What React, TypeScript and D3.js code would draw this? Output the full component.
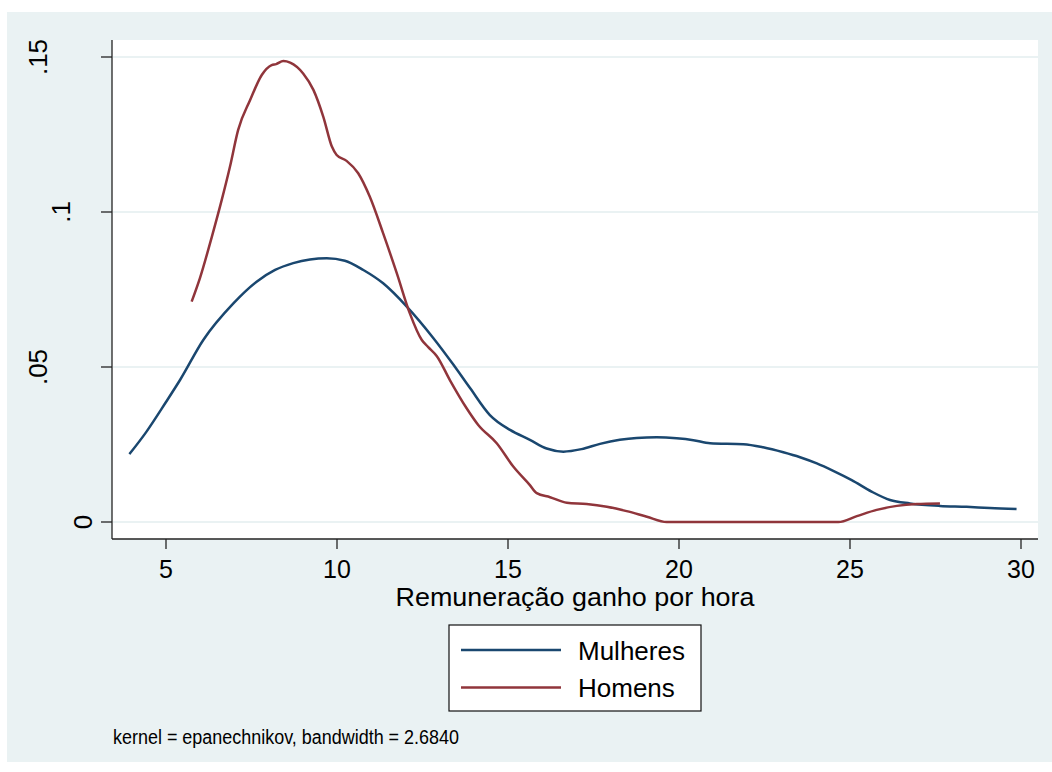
import React, { useRef, useEffect } from 'react';
import * as d3 from 'd3';

// kernel density estimates
const mulheresX = [3.93, 4.42, 5.0, 5.41, 6.09, 6.97, 7.65, 8.19, 8.72, 9.21, 9.70, 10.23, 10.77, 11.35, 12.04, 12.82, 13.40, 13.89, 14.47, 15.06, 15.64, 16.13, 16.62, 17.15, 17.69, 18.27, 18.76, 19.35, 19.93, 20.42, 20.91, 21.88, 22.46, 23.05, 23.54, 24.03, 24.51, 25.05, 25.63, 26.17, 26.75, 27.63, 28.41, 29.09, 29.87];
const mulheresY = [0.0219, 0.029, 0.0387, 0.0458, 0.0587, 0.0705, 0.0775, 0.0813, 0.0835, 0.0847, 0.0851, 0.0843, 0.0813, 0.077, 0.0695, 0.0593, 0.0508, 0.0432, 0.0345, 0.0297, 0.0265, 0.0237, 0.0227, 0.0235, 0.0252, 0.0265, 0.0271, 0.0273, 0.027, 0.0264, 0.0254, 0.0251, 0.0241, 0.0225, 0.0209, 0.0189, 0.0165, 0.0135, 0.0098, 0.0071, 0.006, 0.0052, 0.0049, 0.0045, 0.0042];

const homensX = [5.75, 5.99, 6.34, 6.63, 6.87, 7.11, 7.46, 7.80, 8.09, 8.22, 8.43, 8.63, 9.01, 9.31, 9.60, 9.85, 9.99, 10.28, 10.62, 10.96, 11.35, 11.75, 12.13, 12.48, 12.66, 12.92, 13.30, 13.79, 14.13, 14.67, 15.16, 15.64, 15.84, 16.23, 16.72, 17.30, 17.89, 18.47, 19.06, 19.64, 24.66, 25.20, 25.78, 26.37, 26.95, 27.63];
const homensY = [0.0711, 0.0786, 0.092, 0.1039, 0.1146, 0.1265, 0.1361, 0.1442, 0.1474, 0.1477, 0.1487, 0.1482, 0.1447, 0.1394, 0.1307, 0.1211, 0.1184, 0.1165, 0.1125, 0.1049, 0.0931, 0.0802, 0.0673, 0.0587, 0.0565, 0.0535, 0.0458, 0.0367, 0.0313, 0.0254, 0.0178, 0.0119, 0.0093, 0.008, 0.0062, 0.0058, 0.0049, 0.0035, 0.0017, 0, 0, 0.0019, 0.0039, 0.0052, 0.0058, 0.006];

const xTicks = [5, 10, 15, 20, 25, 30];
const yTicks = [0, 0.05, 0.1, 0.15];
const yTickLabels = ['0', '.05', '.1', '.15'];
const seriesNames = ['Mulheres', 'Homens'];
const seriesColors = ['#1a476f', '#90353b'];

const App = () => {
  const ref = useRef(null);

  useEffect(() => {
    if (!ref.current) return;
    const W = 1052, H = 772;
    const plot = { left: 112, right: 1038, top: 40, bottom: 539 };
    const font = "'Liberation Sans', Arial, sans-serif";

    d3.select(ref.current).select('svg').remove();
    const svg = d3.select(ref.current)
      .append('svg')
      .attr('width', W)
      .attr('height', H)
      .style('position', 'absolute')
      .style('left', 0)
      .style('top', 0);

    svg.append('rect').attr('width', W).attr('height', H).attr('fill', '#ffffff');
    svg.append('rect')
      .attr('x', 7).attr('y', 12)
      .attr('width', W - 7).attr('height', 750)
      .attr('fill', '#eaf2f3');
    svg.append('rect')
      .attr('x', plot.left).attr('y', plot.top)
      .attr('width', plot.right - plot.left).attr('height', plot.bottom - plot.top)
      .attr('fill', '#ffffff');

    const x = d3.scaleLinear().domain([5, 30]).range([166, 1021]);
    const y = d3.scaleLinear().domain([0, 0.15]).range([522, 57]);

    // gridlines
    svg.append('g')
      .selectAll('line')
      .data(yTicks)
      .join('line')
      .attr('x1', plot.left + 1).attr('x2', plot.right)
      .attr('y1', d => y(d)).attr('y2', d => y(d))
      .attr('stroke', '#eaf2f3')
      .attr('stroke-width', 2);

    // series
    const line = d3.line<[number, number]>()
      .x(d => x(d[0]))
      .y(d => y(d[1]))
      .curve(d3.curveMonotoneX);

    const series = [
      d3.zip(mulheresX, mulheresY),
      d3.zip(homensX, homensY),
    ];
    series.forEach((pts, i) => {
      svg.append('path')
        .attr('d', line(pts as [number, number][]))
        .attr('fill', 'none')
        .attr('stroke', seriesColors[i])
        .attr('stroke-width', 2.5)
        .attr('stroke-linejoin', 'round');
    });

    // axes
    const axisColor = '#222222';
    svg.append('line')
      .attr('x1', plot.left).attr('x2', plot.left)
      .attr('y1', plot.top).attr('y2', plot.bottom)
      .attr('stroke', axisColor).attr('stroke-width', 1.3);
    svg.append('line')
      .attr('x1', plot.left).attr('x2', plot.right)
      .attr('y1', plot.bottom).attr('y2', plot.bottom)
      .attr('stroke', axisColor).attr('stroke-width', 1.3);

    svg.append('g')
      .selectAll('line')
      .data(yTicks)
      .join('line')
      .attr('x1', plot.left - 11).attr('x2', plot.left)
      .attr('y1', d => y(d)).attr('y2', d => y(d))
      .attr('stroke', axisColor).attr('stroke-width', 1.3);

    svg.append('g')
      .selectAll('line')
      .data(xTicks)
      .join('line')
      .attr('x1', d => x(d)).attr('x2', d => x(d))
      .attr('y1', plot.bottom).attr('y2', plot.bottom + 10)
      .attr('stroke', axisColor).attr('stroke-width', 1.3);

    svg.append('g')
      .selectAll('text')
      .data(xTicks)
      .join('text')
      .attr('x', d => x(d))
      .attr('y', 578)
      .attr('text-anchor', 'middle')
      .style('font-family', font)
      .style('font-size', '25px')
      .text(d => d);

    svg.append('g')
      .selectAll('text')
      .data(yTicks)
      .join('text')
      .attr('transform', (d, i) => {
        const bx = plot.left - 20 - (yTickLabels[i].length - 1) * 22.5;
        return `translate(${bx},${y(d)}) rotate(-90)`;
      })
      .attr('text-anchor', 'middle')
      .style('font-family', font)
      .style('font-size', '26px')
      .text((d, i) => yTickLabels[i]);

    // axis title
    svg.append('text')
      .attr('x', (plot.left + plot.right) / 2)
      .attr('y', 606)
      .attr('text-anchor', 'middle')
      .attr('textLength', 359)
      .attr('lengthAdjust', 'spacingAndGlyphs')
      .style('font-family', font)
      .style('font-size', '25px')
      .text('Remuneração ganho por hora');

    // legend
    const lg = svg.append('g');
    lg.append('rect')
      .attr('x', 449).attr('y', 625)
      .attr('width', 252).attr('height', 86)
      .attr('fill', '#ffffff')
      .attr('stroke', '#111111').attr('stroke-width', 1.2);
    seriesNames.forEach((name, i) => {
      const ly = 650 + i * 37.5;
      lg.append('line')
        .attr('x1', 461).attr('x2', 561)
        .attr('y1', ly).attr('y2', ly)
        .attr('stroke', seriesColors[i]).attr('stroke-width', 2.5);
      lg.append('text')
        .attr('x', 578).attr('y', ly + 9.5)
        .style('font-family', font)
        .style('font-size', '26px')
        .text(name);
    });

    // note
    svg.append('text')
      .attr('x', 113).attr('y', 744)
      .attr('textLength', 346)
      .attr('lengthAdjust', 'spacingAndGlyphs')
      .style('font-family', font)
      .style('font-size', '20px')
      .text('kernel = epanechnikov, bandwidth = 2.6840');
  }, []);

  return <div ref={ref} />;
};

export default App;
